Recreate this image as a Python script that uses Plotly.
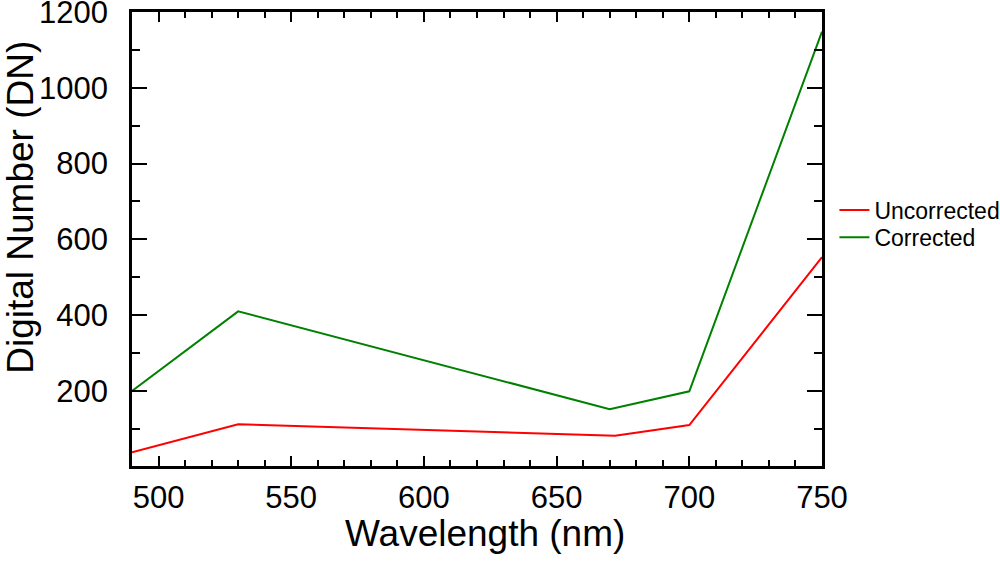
import plotly.graph_objects as go

wavelength_unc = [490, 530, 672, 700, 750]
uncorrected = [38, 112, 82, 110, 553]
wavelength_cor = [490, 530, 670, 700, 750]
corrected = [200, 410, 152, 199, 1148]

x_title = "Wavelength (nm)"
y_title = "Digital Number (DN)"

fig = go.Figure()
fig.add_trace(go.Scatter(x=wavelength_unc, y=uncorrected, mode="lines", name="Uncorrected",
                         line=dict(color="#ff0000", width=2), legend="legend"))
fig.add_trace(go.Scatter(x=wavelength_cor, y=corrected, mode="lines", name="Corrected",
                         line=dict(color="#008000", width=2), legend="legend2"))

font_family = "Liberation Sans, Arial, sans-serif"
leg_common = dict(x=1.018, xanchor="left", yanchor="middle",
                  font=dict(size=23, family=font_family), bgcolor="rgba(0,0,0,0)")
fig.update_layout(
    width=1000, height=566,
    margin=dict(l=132, r=178, t=12, b=100, autoexpand=False),
    paper_bgcolor="white", plot_bgcolor="white",
    font=dict(family=font_family, color="black"),
    legend=dict(y=0.564, **leg_common),
    legend2=dict(y=0.504, **leg_common),
    showlegend=True,
)
fig.update_xaxes(
    range=[490, 750], tick0=500, dtick=50, showgrid=False, zeroline=False,
    showline=True, linecolor="black", linewidth=2.5, mirror="allticks",
    ticks="inside", ticklen=10, tickwidth=2, tickcolor="black",
    tickfont=dict(size=31), ticklabelstandoff=2, automargin=False,
    ticklabeloverflow="allow",
    minor=dict(ticks="inside", ticklen=6, tickwidth=2, tickcolor="black", dtick=10, tick0=500),
)
fig.update_yaxes(
    range=[2, 1200], tick0=0, dtick=200, showgrid=False, zeroline=False,
    showline=True, linecolor="black", linewidth=2.5, mirror="allticks",
    ticks="inside", ticklen=15, tickwidth=2, tickcolor="black",
    tickfont=dict(size=31), ticklabelstandoff=15, automargin=False,
    ticklabeloverflow="allow",
    minor=dict(ticks="inside", ticklen=8, tickwidth=2, tickcolor="black", dtick=100, tick0=0),
)
fig.add_annotation(text=x_title, xref="paper", yref="paper", x=0.5116, y=-0.1476,
                   xanchor="center", yanchor="middle", showarrow=False,
                   font=dict(size=37, family=font_family, color="black"))
fig.add_annotation(text=y_title, xref="paper", yref="paper", x=-0.1615, y=0.570,
                   xanchor="center", yanchor="middle", showarrow=False, textangle=-90,
                   font=dict(size=37, family=font_family, color="black"))
fig.write_html("out.html", config={"displayModeBar": False},
               post_script="document.body.style.margin='0px';")
